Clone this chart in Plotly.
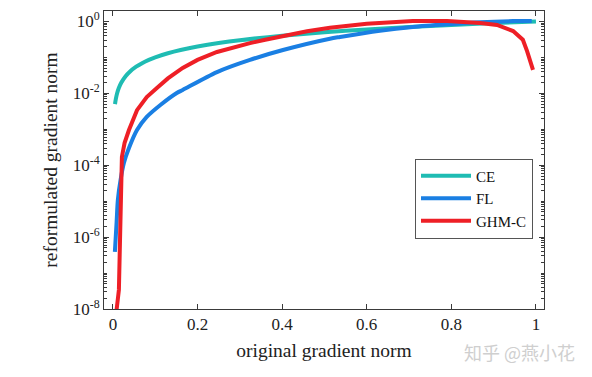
import plotly.graph_objects as go

# Values
ce_x = [0.005, 0.007, 0.01, 0.014, 0.02, 0.03, 0.04, 0.055, 0.07, 0.085, 0.1, 0.13, 0.16,
        0.2, 0.25, 0.3, 0.4, 0.5, 0.6, 0.7, 0.8, 0.9, 1.0]
ce_y = [0.005, 0.007, 0.01, 0.014, 0.02, 0.03, 0.04, 0.055, 0.07, 0.085, 0.1, 0.13, 0.16,
        0.2, 0.25, 0.3, 0.4, 0.5, 0.6, 0.7, 0.8, 0.9, 1.0]

fl_x = [0.0047, 0.0087, 0.0118, 0.0182, 0.026, 0.038, 0.057, 0.080, 0.113, 0.151, 0.165,
        0.246, 0.324, 0.402, 0.513, 0.537, 0.631, 0.709, 0.790, 0.868, 0.946, 0.99]
fl_y = [3.9e-7, 2.5e-6, 1.1e-5, 3.9e-5, 1.15e-4, 3.0e-4, 9.5e-4, 2.2e-3, 4.8e-3, 1.02e-2, 1.24e-2,
        3.9e-2, 0.085, 0.16, 0.33, 0.37, 0.55, 0.70, 0.83, 0.95, 1.02, 1.03]

ghm_x = [0.006, 0.0087, 0.0142, 0.0182, 0.0213, 0.0277, 0.038, 0.057, 0.080, 0.104, 0.13,
         0.165, 0.2, 0.246, 0.29, 0.324, 0.36, 0.402, 0.459, 0.513, 0.56, 0.6, 0.65,
         0.709, 0.790, 0.868, 0.908, 0.946, 0.969, 0.979, 0.993]
ghm_y = [3e-9, 9.4e-9, 3.4e-8, 2.5e-6, 1.7e-4, 4.2e-4, 9.5e-4, 3.4e-3, 7.9e-3, 1.4e-2, 0.026,
         0.051, 0.085, 0.141, 0.2, 0.25, 0.31, 0.39, 0.53, 0.67, 0.78, 0.86, 0.94,
         1.03, 1.03, 0.91, 0.80, 0.54, 0.31, 0.15, 0.045]

x_ticks = [0, 0.2, 0.4, 0.6, 0.8, 1]
x_tick_text = ["0", "0.2", "0.4", "0.6", "0.8", "1"]
y_ticks = [1e-8, 1e-6, 1e-4, 1e-2, 1e0]
y_tick_text = ["10<sup>-8</sup>", "10<sup>-6</sup>", "10<sup>-4</sup>", "10<sup>-2</sup>", "10<sup>0</sup>"]

series = [("CE", ce_x, ce_y, "#1fbcb3", "spline"),
          ("FL", fl_x, fl_y, "#1a7fe3", "spline"),
          ("GHM-C", ghm_x, ghm_y, "#ee1f26", "linear")]

serif = "Liberation Serif"
axis_col = "#3a3a3a"
txt_col = "#222222"

fig = go.Figure()
for name, xs, ys, col, shape in series:
    fig.add_trace(go.Scatter(x=xs, y=ys, mode="lines", name=name,
                             line=dict(color=col, width=4, shape=shape, smoothing=0.8)))

fig.update_layout(
    width=592, height=377,
    margin=dict(l=104, r=48, t=11, b=68),
    paper_bgcolor="white", plot_bgcolor="white",
    font=dict(family=serif, color=txt_col, size=16),
    showlegend=True,
    legend=dict(x=0.975, y=0.505, xanchor="right", yanchor="top",
                bgcolor="white", bordercolor="#555555", borderwidth=1,
                font=dict(family=serif, size=15, color="#111111"),
                tracegroupgap=0, itemwidth=50),
)
fig.update_xaxes(
    range=[-0.021, 1.019], tickvals=x_ticks, ticktext=x_tick_text, automargin=False,
    showgrid=False, zeroline=False, showline=True, linecolor=axis_col, linewidth=1,
    mirror="ticks", ticks="inside", ticklen=5, tickcolor=axis_col,
    tickfont=dict(family=serif, size=17, color=txt_col),
    title=dict(text="original gradient norm", font=dict(family=serif, size=19.5, color=txt_col),
               standoff=9),
)
fig.update_yaxes(
    type="log", range=[-8, 0.29], tickvals=y_ticks, ticktext=y_tick_text, automargin=False,
    showgrid=False, zeroline=False, showline=True, linecolor=axis_col, linewidth=1,
    mirror="ticks", ticks="inside", ticklen=5, tickcolor=axis_col,
    tickfont=dict(family=serif, size=17, color=txt_col),
    minor=dict(ticks="inside", ticklen=3, tickcolor=axis_col, dtick="D1", showgrid=False),
    title=dict(text="reformulated gradient norm", font=dict(family=serif, size=19.5, color=txt_col),
               standoff=9),
)
fig.add_annotation(text="知乎 @燕小花", xref="paper", yref="paper", x=1.075, y=-0.145,
                   xanchor="right", yanchor="middle", showarrow=False,
                   font=dict(family="Noto Sans CJK SC", size=18, color="#cfcfcf"))

fig.write_html("out.html", config={"displayModeBar": False},
               post_script="document.body.style.margin='0';document.body.style.overflow='hidden';")
